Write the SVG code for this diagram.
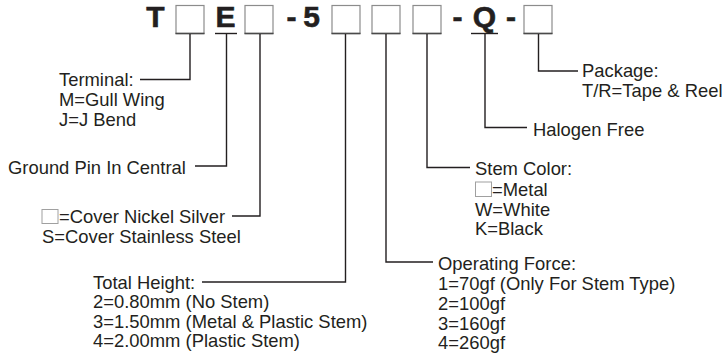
<svg xmlns="http://www.w3.org/2000/svg" width="724" height="356" viewBox="0 0 724 356">
<style>
.t{font-family:"Liberation Sans",Arial,sans-serif;font-size:18.4px;fill:#231f20}
.b{font-family:"Liberation Sans",Arial,sans-serif;font-size:30px;font-weight:bold;fill:#231f20;stroke:#231f20;stroke-width:0.6;text-anchor:middle}
.box{fill:#fff;stroke:#8c8c8c;stroke-width:1.2}
.sb{fill:#fff;stroke:#a0a0a0;stroke-width:1}
.base{stroke:#4a4a4a;stroke-width:1.6}
.c{fill:none;stroke:#231f20;stroke-width:1.4}
</style>
<rect width="724" height="356" fill="#fff"/>
<g id="code">
<text class="b" x="155.5" y="27">T</text>
<rect class="box" x="176" y="5.5" width="28" height="28"/><line class="base" x1="175.5" y1="33.5" x2="204.5" y2="33.5"/>
<text class="b" x="225.5" y="27">E</text>
<line class="c" x1="215" y1="33.5" x2="237" y2="33.5"/>
<rect class="box" x="245" y="5.5" width="28" height="28"/><line class="base" x1="244.5" y1="33.5" x2="273.5" y2="33.5"/>
<text class="b" x="291.5" y="27">-</text>
<text class="b" x="311.7" y="27">5</text>
<rect class="box" x="332" y="5.5" width="28" height="28"/><line class="base" x1="331.5" y1="33.5" x2="360.5" y2="33.5"/>
<rect class="box" x="372" y="5.5" width="28" height="28"/><line class="base" x1="371.5" y1="33.5" x2="400.5" y2="33.5"/>
<rect class="box" x="413" y="5.5" width="28" height="28"/><line class="base" x1="412.5" y1="33.5" x2="441.5" y2="33.5"/>
<text class="b" x="457.5" y="27">-</text>
<text class="b" x="484.5" y="27">Q</text>
<line class="c" x1="471" y1="33.5" x2="498" y2="33.5"/>
<text class="b" x="511" y="27">-</text>
<rect class="box" x="524" y="5.5" width="28" height="28"/><line class="base" x1="523.5" y1="33.5" x2="552.5" y2="33.5"/>
</g>
<g id="connectors">
<path class="c" d="M190,34V79.5H140"/>
<path class="c" d="M226.5,34V166H195"/>
<path class="c" d="M260,34V216H232"/>
<path class="c" d="M345.5,34V282H202"/>
<path class="c" d="M386,34V262H433"/>
<path class="c" d="M427,34V167.5H470"/>
<path class="c" d="M485,34V127.5H527"/>
<path class="c" d="M538.5,34V71H578"/>
</g>
<g id="terminal">
<text class="t" x="59" y="86">Terminal:</text>
<text class="t" x="59" y="106">M=Gull Wing</text>
<text class="t" x="59" y="126">J=J Bend</text>
</g>
<g id="ground">
<text class="t" x="8" y="173.5">Ground Pin In Central</text>
</g>
<g id="cover">
<rect class="sb" x="42" y="209.5" width="16" height="14"/>
<text class="t" x="59" y="223">=Cover Nickel Silver</text>
<text class="t" x="42" y="242.5">S=Cover Stainless Steel</text>
</g>
<g id="height">
<text class="t" x="93" y="288.5">Total Height:</text>
<text class="t" x="93" y="308">2=0.80mm (No Stem)</text>
<text class="t" x="93" y="327.5">3=1.50mm (Metal &amp; Plastic Stem)</text>
<text class="t" x="93" y="347">4=2.00mm (Plastic Stem)</text>
</g>
<g id="force">
<text class="t" x="438" y="270">Operating Force:</text>
<text class="t" x="438" y="290">1=70gf (Only For Stem Type)</text>
<text class="t" x="438" y="309.8">2=100gf</text>
<text class="t" x="438" y="329.5">3=160gf</text>
<text class="t" x="438" y="349">4=260gf</text>
</g>
<g id="stem">
<text class="t" x="475" y="175">Stem Color:</text>
<rect class="sb" x="475.5" y="182" width="16" height="14.5"/>
<text class="t" x="492" y="195.5">=Metal</text>
<text class="t" x="475" y="215.5">W=White</text>
<text class="t" x="475" y="235.3">K=Black</text>
</g>
<g id="halogen">
<text class="t" x="533" y="136">Halogen Free</text>
</g>
<g id="package">
<text class="t" x="582" y="77">Package:</text>
<text class="t" x="582" y="97">T/R=Tape &amp; Reel</text>
</g>
</svg>
